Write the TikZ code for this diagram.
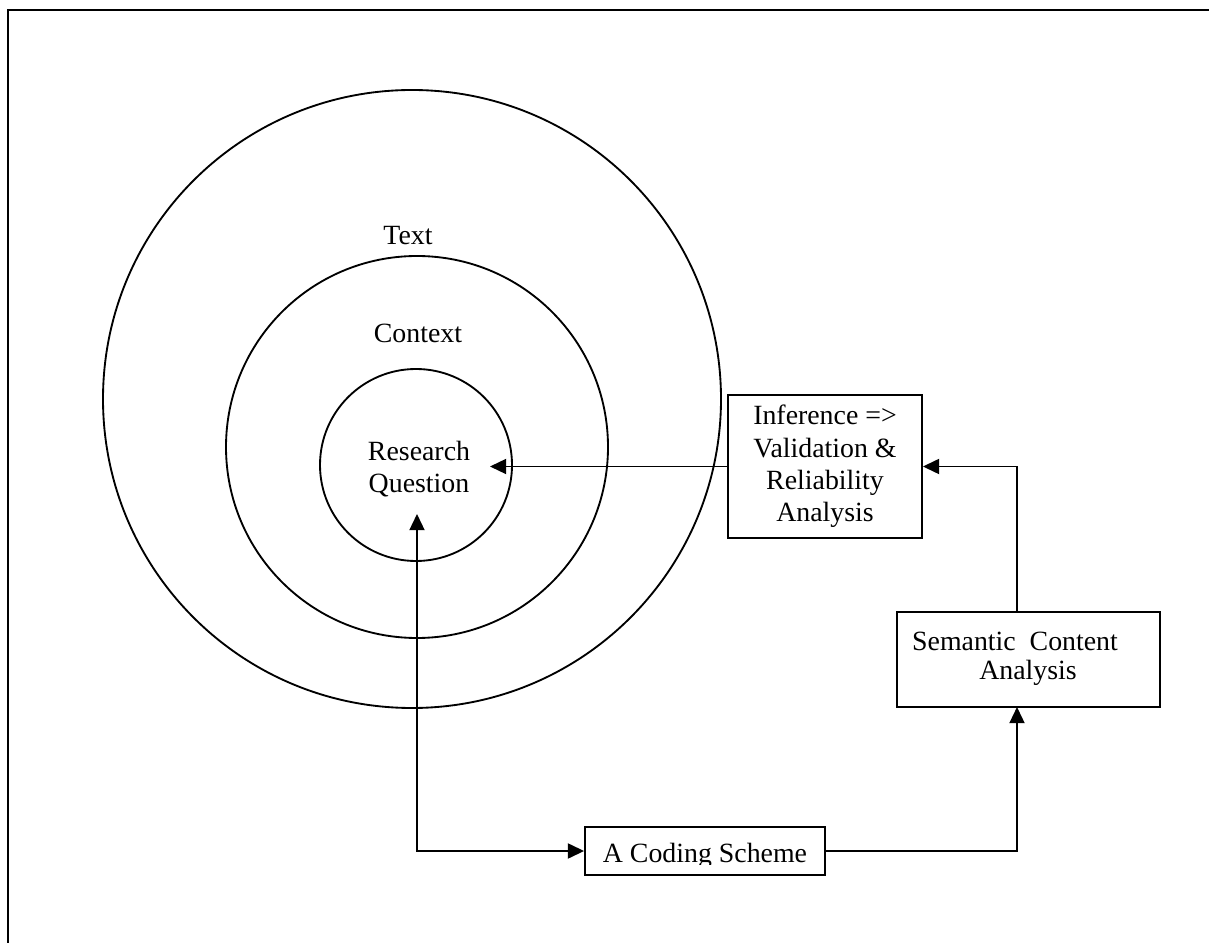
\documentclass[tikz,border=0pt]{standalone}
\usepackage{fontspec}
\setmainfont{Liberation Serif}
\usetikzlibrary{arrows.meta}
\newcommand\pxu{0.431pt}
\begin{document}
\begin{tikzpicture}[x=0.431pt,y=-0.431pt,
  every node/.style={font=\fontsize{12pt}{13.9pt}\selectfont},
  ln/.style={line width=0.8pt},
  ring/.style={ln,draw,circle,inner sep=0pt},
  boxnode/.style={ln,draw,rectangle,inner sep=0pt,align=center},
  lbl/.style={inner sep=0pt,align=center},
  arr/.style={ln,-{Triangle[length=7pt,width=6.5pt]}},
  darr/.style={ln,{Triangle[length=7pt,width=6.5pt]}-{Triangle[length=7pt,width=6.5pt]}}]
\useasboundingbox (0,0) rectangle (1209,943);
\clip (0,0) rectangle (1209,943);
% frame
\draw[line width=1.1pt] (8,960) -- (8,10) -- (1230,10);
% circles
\node[ring,minimum size=618*\pxu] (outer) at (412,399) {};
\node[ring,minimum size=382*\pxu] (middle) at (417,447) {};
\node[ring,minimum size=192*\pxu] (inner) at (416,465) {};
% circle labels
\node[lbl] (txt) at (408,236) {Text};
\node[lbl] (ctx) at (418,333) {Context};
\node[lbl] (rq) at (419,469) {Research\\Question};
% boxes
\node[boxnode,minimum width=194*\pxu,minimum height=143*\pxu] (inf) at (825,466.5)
  {Inference =>\\Validation \&\\Reliability\\Analysis};
\node[boxnode,minimum width=263*\pxu,minimum height=95*\pxu] (sem) at (1028.5,659.5) {};
\node[lbl] (semA) at (1015,641) {Semantic\ \ Content};
\node[lbl] (semB) at (1028,673) {Analysis};
\node[boxnode,minimum width=240*\pxu,minimum height=48*\pxu] (code) at (705,851) {};
\begin{scope}
  \clip (587,829) rectangle (823,864);
  \node[lbl,anchor=base] (codetxt) at (705,862.5) {A Coding Scheme};
\end{scope}
% connector ends
\coordinate (rqR) at (490,466.5);
\coordinate (rqB) at (417,514);
\coordinate (semBot) at (1017,707);
\coordinate (semTop) at (1017,612);
% connectors
\draw[arr] (inf.west) -- (rqR);
\draw[darr] (rqB) |- (code.west);
\draw[arr] (code.east) -| (semBot);
\draw[arr] (semTop) |- (inf.east);
\end{tikzpicture}
\end{document}
